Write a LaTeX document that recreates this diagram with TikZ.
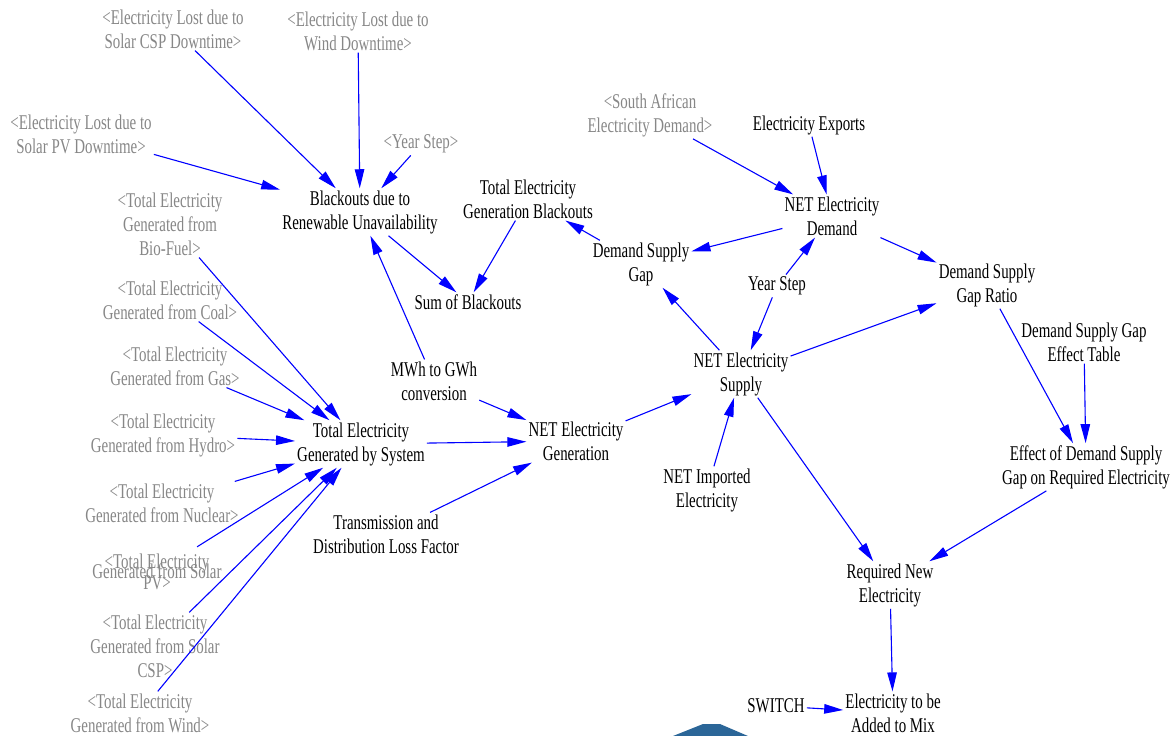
\documentclass[tikz,border=0pt]{standalone}
\usepackage{fontspec}
\setmainfont{Liberation Serif}[FakeStretch=0.71]
\usetikzlibrary{arrows.meta}
\definecolor{shadowtext}{RGB}{135,135,135}
\definecolor{linkblue}{RGB}{0,0,255}
\definecolor{hexblue}{RGB}{43,102,152}
\begin{document}
\begin{tikzpicture}[x=1pt,y=-1pt,
  v/.style={align=center, inner sep=2pt, font=\fontsize{21}{24}\selectfont},
  sh/.style={v, text=shadowtext},
  lk/.style={draw=linkblue, line width=1.1pt, -{Triangle[length=19pt,width=9.5pt]}, fill=none}]
\fill[white] (0,0) rectangle (1173,736);
\useasboundingbox (0,0) rectangle (1173,736);

% top-left shadow variables
\node[sh] (lcsp) at (173,29) {<Electricity Lost due to\\Solar CSP Downtime>};
\node[sh] (lwind) at (358,31) {<Electricity Lost due to\\Wind Downtime>};
\node[sh] (lpv) at (81,134) {<Electricity Lost due to\\Solar PV Downtime>};
\node[sh] (ys1) at (421,144) {<Year Step>};

% main variables
\node[v] (blk) at (360,212) {Blackouts due to\\Renewable Unavailability};
\node[v] (tgb) at (528,199) {Total Electricity\\Generation Blackouts};
\node[v] (sum) at (468,302) {Sum of Blackouts};
\node[v] (dsg) at (641,264) {Demand Supply\\Gap};
\node[sh] (sad) at (650,115) {<South African\\Electricity Demand>};
\node[v] (exp) at (809,125) {Electricity Exports};
\node[v] (ned) at (832,216) {NET Electricity\\Demand};
\node[v] (ys) at (777,286) {Year Step};
\node[v] (dsgr) at (987,285) {Demand Supply\\Gap Ratio};
\node[v] (tab) at (1084,342) {Demand Supply Gap\\Effect Table};
\node[v] (nes) at (741,374) {NET Electricity\\Supply};
\node[v] (mwh) at (434,381) {MWh to GWh\\conversion};
\node[v] (tgs) at (361,444) {Total Electricity\\Generated by System};
\node[v] (neg) at (576,441) {NET Electricity\\Generation};
\node[v] (tdl) at (386,534) {Transmission and\\Distribution Loss Factor};
\node[v] (nie) at (707,490) {NET Imported\\Electricity};
\node[v] (eff) at (1086,467) {Effect of Demand Supply\\Gap on Required Electricity};
\node[v] (rne) at (890,585) {Required New\\Electricity};
\node[v] (add) at (893,713) {Electricity to be\\Added to Mix};
\node[v] (sw) at (776,706) {SWITCH};

% left shadow variables
\node[sh] (bio) at (170,224) {<Total Electricity\\Generated from\\Bio-Fuel>};
\node[sh] (coal) at (170,300) {<Total Electricity\\Generated from Coal>};
\node[sh] (gas) at (175,366) {<Total Electricity\\Generated from Gas>};
\node[sh] (hyd) at (163,435) {<Total Electricity\\Generated from Hydro>};
\node[sh] (nuc) at (162,503) {<Total Electricity\\Generated from Nuclear>};
\node[sh, minimum height=50pt] (pv) at (157,572) {<Total Electricity\\[-14pt]Generated from Solar\\[-13pt]PV>};
\node[sh] (csp) at (155,646) {<Total Electricity\\Generated from Solar\\CSP>};
\node[sh] (wind) at (140,713) {<Total Electricity\\Generated from Wind>};

% links
\draw[lk] (lcsp) -- (blk);
\draw[lk] (lwind) -- (blk);
\draw[lk] (lpv) -- (blk);
\draw[lk] (ys1) -- (blk);
\draw[lk] (blk) -- (sum);
\draw[lk] (tgb) -- (sum);
\draw[lk] (mwh) -- (blk);
\draw[lk] (dsg) -- (tgb);
\draw[lk] (ned) -- (dsg);
\draw[lk] (nes) -- (dsg);
\draw[lk] (sad) -- (ned);
\draw[lk] (exp) -- (ned);
\draw[lk] (ys) -- (ned);
\draw[lk] (ys) -- (nes);
\draw[lk] (ned) -- (dsgr);
\draw[lk] (nes) -- (dsgr);
\draw[lk] (dsgr) -- (eff);
\draw[lk] (tab) -- (eff);
\draw[lk] (neg) -- (nes);
\draw[lk] (nie) -- (nes);
\draw[lk] (nes) -- (rne);
\draw[lk] (eff) -- (rne);
\draw[lk] (rne) -- (add);
\draw[lk] (sw) -- (add);
\draw[lk] (mwh) -- (neg);
\draw[lk] (tgs) -- (neg);
\draw[lk] (tdl) -- (neg);
\foreach \s in {bio,coal,gas,hyd,nuc,pv,csp,wind}
  \draw[lk] (\s) -- (tgs);

% partial shape at the bottom edge
\fill[hexblue] (673,736) -- (703,724) -- (720,724) -- (748,736) -- cycle;
\end{tikzpicture}
\end{document}
